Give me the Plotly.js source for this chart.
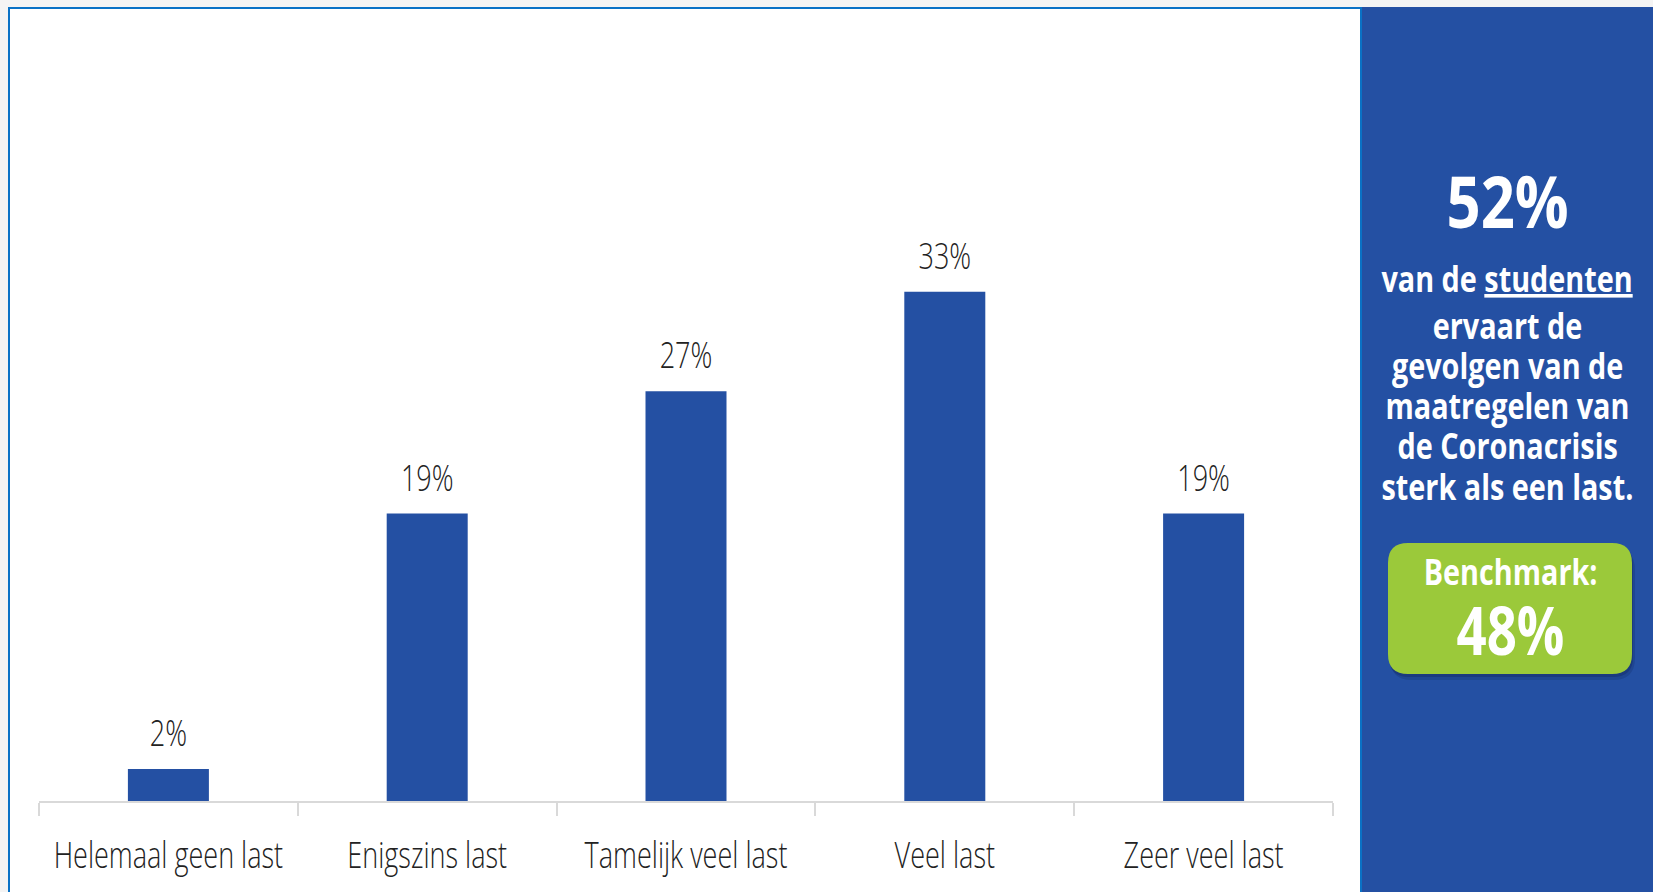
<!DOCTYPE html>
<html>
<head>
<meta charset="utf-8">
<script src="https://cdn.plot.ly/plotly-3.0.1.min.js"></script>
<style>
  html, body { margin: 0; padding: 0; background: #f4f4f4; }
  #chart { width: 1653px; height: 892px; }
</style>
</head>
<body>
<div id="chart"></div>
<script>
// ---- data ----
const categories = ["Helemaal geen last", "Enigszins last", "Tamelijk veel last", "Veel last", "Zeer veel last"];
// bar heights (the printed labels are rounded)
const values = [2.1, 18.8, 26.8, 33.3, 18.8];
const valueLabels = ["2%", "19%", "27%", "33%", "19%"];

const headline = "52%";
const panelLines = [
  "van de <u>studenten</u>",
  "ervaart de",
  "gevolgen van de",
  "maatregelen van",
  "de Coronacrisis",
  "sterk als een last."
];
const benchmarkLabel = "Benchmark:";
const benchmarkValue = "48%";

// ---- layout geometry (pixels) ----
const W = 1653, H = 892;
const L = 39, R = 320, T = 220, B = 91;
const PW = W - L - R, PH = H - T - B;
const px = x => (x - L) / PW;          // pixel x -> paper x
const py = y => (H - B - y) / PH;      // pixel y -> paper y

function roundRect(x0, y0, x1, y1, r) {
  const P = (x, y) => px(x).toFixed(5) + "," + py(y).toFixed(5);
  return "M" + P(x0 + r, y0) + " L" + P(x1 - r, y0) + " Q" + P(x1, y0) + " " + P(x1, y0 + r) +
         " L" + P(x1, y1 - r) + " Q" + P(x1, y1) + " " + P(x1 - r, y1) +
         " L" + P(x0 + r, y1) + " Q" + P(x0, y1) + " " + P(x0, y1 - r) +
         " L" + P(x0, y0 + r) + " Q" + P(x0, y0) + " " + P(x0 + r, y0) + " Z";
}

const BLUE = "#2450a3";
const GREEN = "#9bc93a";
const FONT = "'Open Sans', 'DejaVu Sans', sans-serif";

const traces = [
  {
    type: "bar",
    x: categories,
    y: values,
    marker: { color: BLUE },
    hoverinfo: "none",
    showlegend: false
  },
  {
    type: "scatter",
    mode: "markers+text",
    x: categories,
    y: values,
    text: valueLabels,
    textposition: "top center",
    textfont: { family: FONT, size: 37, color: "#222222", weight: 300 },
    marker: { size: 20, opacity: 0 },
    hoverinfo: "none",
    showlegend: false,
    cliponaxis: false
  }
];

const annotations = [];
const squeezeFactors = [];
annotations.push({
  xref: "paper", yref: "paper", x: px(1507), y: py(200),
  xanchor: "center", yanchor: "middle", showarrow: false,
  text: headline,
  font: { family: FONT, size: 72, color: "#ffffff", weight: 700 }
});
squeezeFactors.push(0.83);
const lineCenters = [278, 325, 365, 405, 445, 486];
panelLines.forEach((t, i) => {
  annotations.push({
    xref: "paper", yref: "paper", x: px(1507), y: py(lineCenters[i]),
    xanchor: "center", yanchor: "middle", showarrow: false,
    text: t,
    font: { family: FONT, size: 36, color: "#ffffff", weight: 700 }
  });
  squeezeFactors.push(0.80);
});
annotations.push({
  xref: "paper", yref: "paper", x: px(1510), y: py(571),
  xanchor: "center", yanchor: "middle", showarrow: false,
  text: benchmarkLabel,
  font: { family: FONT, size: 36, color: "#ffffff", weight: 700 }
});
squeezeFactors.push(0.80);
annotations.push({
  xref: "paper", yref: "paper", x: px(1510), y: py(629),
  xanchor: "center", yanchor: "middle", showarrow: false,
  text: benchmarkValue,
  font: { family: FONT, size: 66, color: "#ffffff", weight: 700 }
});
squeezeFactors.push(0.80);

const shapes = [
  // white chart box with blue border
  { type: "rect", xref: "paper", yref: "paper", layer: "below",
    x0: px(9), x1: px(1361), y0: py(H + 5), y1: py(8),
    fillcolor: "#ffffff", line: { color: "#0a72c6", width: 2 } },
  // blue side panel
  { type: "rect", xref: "paper", yref: "paper", layer: "below",
    x0: px(1362), x1: px(W + 5), y0: py(H + 5), y1: py(7),
    fillcolor: BLUE, line: { width: 0 } },
  // soft shadow of benchmark box
  { type: "path", xref: "paper", yref: "paper", layer: "above",
    path: roundRect(1390, 548, 1635, 680, 22),
    fillcolor: "rgba(10,25,70,0.18)", line: { width: 0 } },
  { type: "path", xref: "paper", yref: "paper", layer: "above",
    path: roundRect(1389, 545, 1633, 677, 20),
    fillcolor: "rgba(10,25,70,0.25)", line: { width: 0 } },
  // benchmark box
  { type: "path", xref: "paper", yref: "paper", layer: "above",
    path: roundRect(1388, 543, 1632, 674, 20),
    fillcolor: GREEN, line: { width: 0 } }
];

const layout = {
  width: W, height: H,
  margin: { l: L, r: R, t: T, b: B, pad: 0 },
  paper_bgcolor: "#f4f4f4",
  plot_bgcolor: "rgba(0,0,0,0)",
  bargap: 0.687,
  showlegend: false,
  xaxis: {
    type: "category",
    showline: true, linecolor: "#d9d9d9", linewidth: 2,
    ticks: "outside", tickson: "boundaries", ticklen: 13, tickcolor: "#d9d9d9", tickwidth: 2,
    showgrid: false, zeroline: false,
    tickangle: 0,
    tickfont: { family: FONT, size: 37, color: "#222222", weight: 300 },
    ticklabelstandoff: 21,
    automargin: false,
    fixedrange: true
  },
  yaxis: {
    range: [0, 38], visible: false, showgrid: false, zeroline: false, fixedrange: true
  },
  shapes: shapes,
  annotations: annotations
};

// condense the (real) text horizontally, like the condensed typeface of the original
function squeezeEl(t, f) {
  const w = t.getComputedTextLength();
  if (w > 0) {
    t.setAttribute("textLength", (w * f).toFixed(2));
    t.setAttribute("lengthAdjust", "spacingAndGlyphs");
  }
  return w > 0 ? w * (1 - f) : 0;
}

Plotly.newPlot("chart", traces, layout, { displayModeBar: false, staticPlot: true }).then(() => {
  document.querySelectorAll("#chart g.xtick text").forEach(t => squeezeEl(t, 0.73));
  document.querySelectorAll("#chart g.textpoint text").forEach(t => squeezeEl(t, 0.73));
  document.querySelectorAll("#chart text.annotation-text").forEach((t, i) => {
    const saved = squeezeEl(t, squeezeFactors[i] || 0.8);
    // keep the (invisible) annotation box in step with the condensed text
    const bg = t.parentNode && t.parentNode.querySelector("rect.bg");
    if (bg && saved > 0) {
      const bw = parseFloat(bg.getAttribute("width")) || 0;
      const bx = parseFloat(bg.getAttribute("x")) || 0;
      bg.setAttribute("width", Math.max(0, bw - saved).toFixed(2));
      bg.setAttribute("x", (bx + saved / 2).toFixed(2));
    }
  });
});
</script>
</body>
</html>
